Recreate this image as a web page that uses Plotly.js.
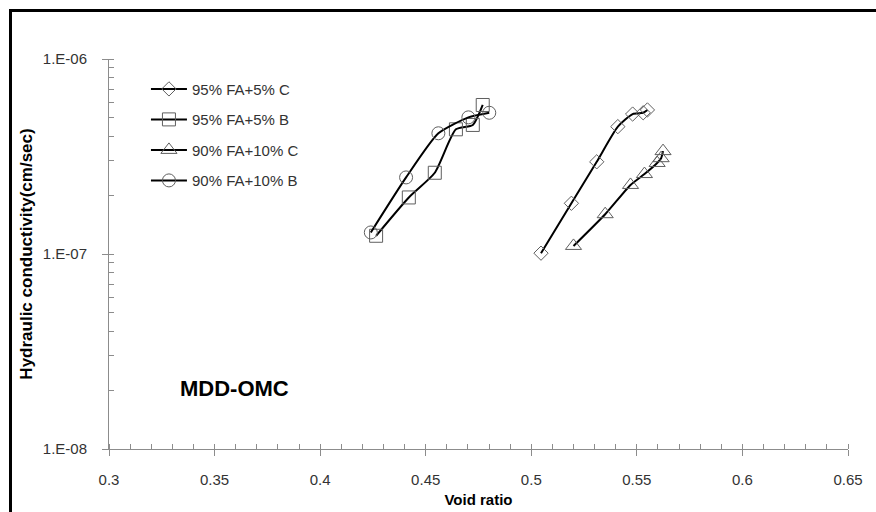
<!DOCTYPE html>
<html>
<head>
<meta charset="utf-8">
<script src="https://cdn.plot.ly/plotly-3.0.1.min.js"></script>
<style>
html,body{margin:0;padding:0;background:#fff;overflow:hidden;}
#frame{position:absolute;left:9px;top:9px;width:900px;height:600px;border:3px solid #000;box-sizing:border-box;pointer-events:none;z-index:5;}
#chart{position:absolute;left:0;top:0;width:876px;height:512px;}
</style>
</head>
<body>
<div id="chart"></div>
<div id="frame"></div>
<script>
// Series: 95% FA+5% C (diamond)
const x95C = [0.5046, 0.519, 0.531, 0.541, 0.548, 0.553, 0.555];
const y95C = [1.01e-7, 1.82e-7, 2.97e-7, 4.5e-7, 5.22e-7, 5.3e-7, 5.48e-7];
// Series: 95% FA+5% B (square)
const x95B = [0.4265, 0.442, 0.4543, 0.4643, 0.4723, 0.477];
const y95B = [1.24e-7, 1.95e-7, 2.61e-7, 4.36e-7, 4.59e-7, 5.81e-7];
// Series: 90% FA+10% C (triangle)
const x90C = [0.520, 0.535, 0.547, 0.5536, 0.5596, 0.5615, 0.5624];
const y90C = [1.10e-7, 1.60e-7, 2.26e-7, 2.57e-7, 2.93e-7, 3.10e-7, 3.37e-7];
// Series: 90% FA+10% B (circle)
const x90B = [0.424, 0.4407, 0.456, 0.4702, 0.4801];
const y90B = [1.29e-7, 2.47e-7, 4.16e-7, 5.02e-7, 5.3e-7];

const seriesNames = ['95% FA+5% C', '95% FA+5% B', '90% FA+10% C', '90% FA+10% B'];
const xTickVals = [0.3, 0.35, 0.4, 0.45, 0.5, 0.55, 0.6, 0.65];
const xTickText = ['0.3', '0.35', '0.4', '0.45', '0.5', '0.55', '0.6', '0.65'];
const yTickVals = [1e-8, 1e-7, 1e-6];
const yTickText = ['1.E-08', '1.E-07', '1.E-06'];

const FONT = 'Liberation Sans, Arial, sans-serif';
const mk = (sym, size) => ({symbol: sym, size: size, color: '#5f5f5f', line: {width: 1, color: '#5f5f5f'}});
const ln = {color: '#000', width: 2, shape: 'spline', smoothing: 0.6};

const data = [
  {x: x95C, y: y95C, name: seriesNames[0], mode: 'lines+markers', line: ln, marker: mk('diamond-open', 11), legendgroup: 'a'},
  {x: x95B, y: y95B, name: seriesNames[1], mode: 'lines+markers', line: ln, marker: mk('square-open', 13), legendgroup: 'b'},
  {x: x90C, y: y90C, name: seriesNames[2], mode: 'lines+markers', line: ln, marker: mk('triangle-up-open', 14), legendgroup: 'c'},
  {x: x90B, y: y90B, name: seriesNames[3], mode: 'lines+markers', line: ln, marker: mk('circle-open', 13), legendgroup: 'd'}
];

const layout = {
  width: 876, height: 512,
  margin: {l: 109, r: 28, t: 59, b: 63},
  paper_bgcolor: '#fff', plot_bgcolor: '#fff',
  font: {family: FONT, size: 15, color: '#333'},
  showlegend: true,
  legend: {x: 0.05, y: 0.965, xanchor: 'left', yanchor: 'top', bgcolor: 'rgba(0,0,0,0)',
           font: {family: FONT, size: 15, color: '#333'}, tracegroupgap: 8, itemwidth: 36},
  xaxis: {
    range: [0.3, 0.65], tickvals: xTickVals, ticktext: xTickText,
    showgrid: false, zeroline: false, showline: true, linecolor: '#8c8c8c', linewidth: 1,
    ticks: 'outside', ticklen: 6, tickcolor: '#8c8c8c', ticklabelstandoff: 11,
    minor: {dtick: 0.01, tick0: 0.3, ticks: 'inside', ticklen: 5, tickcolor: '#8c8c8c', showgrid: false},
    title: {text: 'Void ratio', font: {family: FONT, size: 15, color: '#000', weight: 'bold'}, standoff: 7},
    mirror: false
  },
  yaxis: {
    type: 'log', range: [-8, -6], tickvals: yTickVals, ticktext: yTickText,
    showgrid: false, zeroline: false, showline: true, linecolor: '#8c8c8c', linewidth: 1,
    ticks: 'outside', ticklen: 6, tickcolor: '#8c8c8c', ticklabelstandoff: 12,
    minor: {dtick: 'D1', ticks: 'inside', ticklen: 5, tickcolor: '#8c8c8c', showgrid: false},
    title: {text: 'Hydraulic conductivity(cm/sec)', font: {family: FONT, size: 17, color: '#000', weight: 'bold'}, standoff: 5}
  },
  annotations: [
    {xref: 'paper', yref: 'paper', x: 0.093, y: 0.154, xanchor: 'left', yanchor: 'middle', showarrow: false,
     text: '<b>MDD-OMC</b>', font: {family: FONT, size: 22, color: '#000'}}
  ]
};

Plotly.newPlot('chart', data, layout, {displayModeBar: false, staticPlot: true});
</script>
</body>
</html>
